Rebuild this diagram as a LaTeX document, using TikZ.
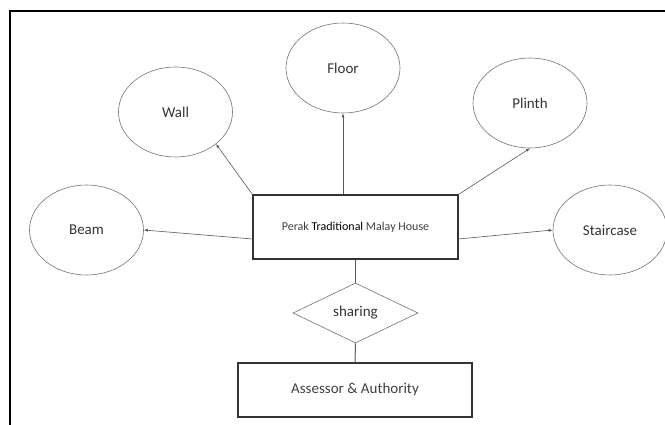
\documentclass[tikz,border=0pt]{standalone}
\usepackage{fontspec}
\setmainfont{Carlito}
\usetikzlibrary{shapes.geometric,arrows.meta}
\begin{document}
\begin{tikzpicture}[x=1pt, y=-1pt,
  attr/.style={ellipse, draw=black!55, line width=0.6pt, minimum width=114pt,
    minimum height=90pt, inner sep=0pt, font=\fontsize{15}{17}\selectfont, text=black!80},
  entity/.style={rectangle, draw=black!80, line width=1.3pt, inner sep=0pt, text=black!75},
  rel/.style={diamond, draw=black!55, line width=0.6pt, inner sep=0pt,
    minimum width=125pt, minimum height=60pt, font=\fontsize{15}{17}\selectfont, text=black!80},
  link/.style={draw=black!65, line width=0.6pt},
  arr/.style={link, -{Latex[length=4pt,width=3pt]}}]
\useasboundingbox (0,0) rectangle (665,425);
% frame
\draw[line width=2pt] (10,425) -- (10,11) -- (665,11);
% entities
\node[entity, minimum width=205pt, minimum height=64pt, font=\fontsize{12}{14}\selectfont]
  (house) at (355.5,227) {Perak {\color{black}Traditional} Malay House};
\node[rel] (share) at (355.5,313) {sharing};
\node[entity, minimum width=234pt, minimum height=54pt, font=\fontsize{15}{17}\selectfont]
  (auth) at (355,390) {Assessor \& Authority};
% attributes
\node[attr] (wall) at (175.5,112) {Wall};
\node[attr] (floor) at (343,68) {Floor};
\node[attr] (plinth) at (530,103) {Plinth};
\node[attr] (beam) at (86.5,230) {Beam};
\node[attr] (stair) at (610,230) {Staircase};
% arrows
\draw[arr] (house.north west) -- (wall.south east);
\draw[arr] (floor |- house.north) -- (floor.south);
\draw[arr] (house.north east) -- (plinth.south);
\draw[arr] ([yshift=-12pt]house.west) -- (beam.east);
\draw[arr] ([yshift=-12pt]house.east) -- (stair.west);
% relationship
\draw[link, line width=1pt] (house.south) -- (share.north);
\draw[link, line width=1pt] (share.south) -- (auth.north);
\end{tikzpicture}
\end{document}
